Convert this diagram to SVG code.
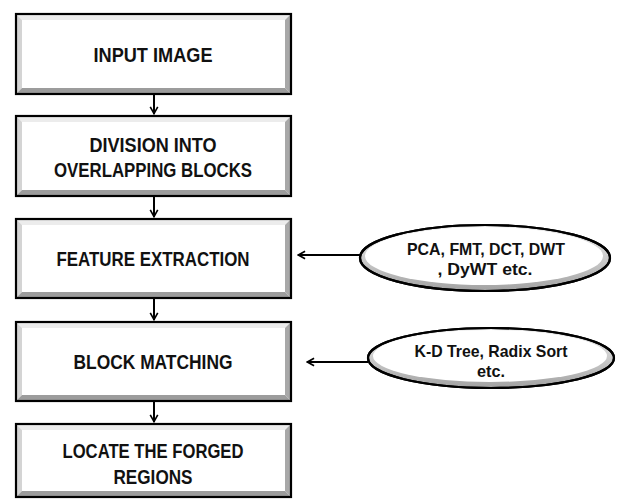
<svg xmlns="http://www.w3.org/2000/svg" width="617" height="500" viewBox="0 0 617 500">
  <defs>
    <marker id="chev" viewBox="0 0 12 12" refX="10.5" refY="6" markerWidth="10" markerHeight="10" markerUnits="userSpaceOnUse" orient="auto">
      <path d="M2,1.5 L10,6 L2,10.5" fill="none" stroke="#000" stroke-width="2"/>
    </marker>
    <linearGradient id="rim" x1="0" y1="0" x2="0" y2="1">
      <stop offset="0" stop-color="#ececec"/>
      <stop offset="0.55" stop-color="#c8c8c8"/>
      <stop offset="1" stop-color="#a2a2a2"/>
    </linearGradient>
  </defs>
  <style>
    .face { fill: #fff; }
    .bt { fill: #ececec; }
    .bl { fill: #d4d4d4; }
    .br { fill: #a8a8a8; }
    .bb { fill: #9c9c9c; }
    .frame { fill: none; stroke: #000; stroke-width: 2.2; }
    .lbl { font-family: "Liberation Sans", Arial, sans-serif; font-weight: bold; font-size: 19.5px; fill: #111; text-anchor: middle; }
    .elbl { font-family: "Liberation Sans", Arial, sans-serif; font-weight: bold; font-size: 17px; fill: #111; text-anchor: middle; }
    .conn { stroke: #000; stroke-width: 2; fill: none; marker-end: url(#chev); }
    .eouter { fill: url(#rim); stroke: #000; stroke-width: 2.2; }
    .einner { fill: #fff; }
  </style>

  <!-- bevelled process boxes: x 16..291, inset 6 -->
  <g id="input-image">
    <rect x="16" y="14" width="275" height="80" class="face"/>
    <polygon points="16,14 291,14 285,20 22,20" class="bt"/>
    <polygon points="16,14 22,20 22,88 16,94" class="bl"/>
    <polygon points="291,14 291,94 285,88 285,20" class="br"/>
    <polygon points="16,94 22,88 285,88 291,94" class="bb"/>
    <rect x="16" y="14" width="275" height="80" class="frame"/>
    <text x="153" y="62" class="lbl" textLength="119" lengthAdjust="spacingAndGlyphs">INPUT IMAGE</text>
  </g>

  <g id="division">
    <rect x="16" y="116" width="275" height="80" class="face"/>
    <polygon points="16,116 291,116 285,122 22,122" class="bt"/>
    <polygon points="16,116 22,122 22,190 16,196" class="bl"/>
    <polygon points="291,116 291,196 285,190 285,122" class="br"/>
    <polygon points="16,196 22,190 285,190 291,196" class="bb"/>
    <rect x="16" y="116" width="275" height="80" class="frame"/>
    <text x="153" y="152" class="lbl" textLength="127" lengthAdjust="spacingAndGlyphs">DIVISION INTO</text>
    <text x="153" y="177" class="lbl" textLength="198" lengthAdjust="spacingAndGlyphs">OVERLAPPING BLOCKS</text>
  </g>

  <g id="feature-extraction">
    <rect x="16" y="219" width="275" height="79" class="face"/>
    <polygon points="16,219 291,219 285,225 22,225" class="bt"/>
    <polygon points="16,219 22,225 22,292 16,298" class="bl"/>
    <polygon points="291,219 291,298 285,292 285,225" class="br"/>
    <polygon points="16,298 22,292 285,292 291,298" class="bb"/>
    <rect x="16" y="219" width="275" height="79" class="frame"/>
    <text x="153" y="266" class="lbl" textLength="193" lengthAdjust="spacingAndGlyphs">FEATURE EXTRACTION</text>
  </g>

  <g id="block-matching">
    <rect x="16" y="322" width="275" height="79" class="face"/>
    <polygon points="16,322 291,322 285,328 22,328" class="bt"/>
    <polygon points="16,322 22,328 22,395 16,401" class="bl"/>
    <polygon points="291,322 291,401 285,395 285,328" class="br"/>
    <polygon points="16,401 22,395 285,395 291,401" class="bb"/>
    <rect x="16" y="322" width="275" height="79" class="frame"/>
    <text x="153" y="369" class="lbl" textLength="159" lengthAdjust="spacingAndGlyphs">BLOCK MATCHING</text>
  </g>

  <g id="locate-regions">
    <rect x="16" y="424" width="275" height="73" class="face"/>
    <polygon points="16,424 291,424 285,430 22,430" class="bt"/>
    <polygon points="16,424 22,430 22,491 16,497" class="bl"/>
    <polygon points="291,424 291,497 285,491 285,430" class="br"/>
    <polygon points="16,497 22,491 285,491 291,497" class="bb"/>
    <rect x="16" y="424" width="275" height="73" class="frame"/>
    <text x="153" y="458" class="lbl" textLength="181" lengthAdjust="spacingAndGlyphs">LOCATE THE FORGED</text>
    <text x="153" y="484" class="lbl" textLength="79" lengthAdjust="spacingAndGlyphs">REGIONS</text>
  </g>

  <!-- technique ellipses -->
  <g id="features-methods">
    <ellipse cx="485" cy="258" rx="125" ry="33" class="eouter"/>
    <ellipse cx="484" cy="256" rx="119" ry="29" class="einner"/>
    <ellipse cx="485" cy="258" rx="125" ry="33" fill="none" stroke="#000" stroke-width="2.2"/>
    <text x="486" y="255" class="elbl" textLength="158" lengthAdjust="spacingAndGlyphs">PCA, FMT, DCT, DWT</text>
    <text x="485" y="275" class="elbl" textLength="95" lengthAdjust="spacingAndGlyphs">, DyWT etc.</text>
  </g>

  <g id="matching-methods">
    <ellipse cx="491" cy="358" rx="123" ry="30" class="eouter"/>
    <ellipse cx="490" cy="356" rx="117" ry="26" class="einner"/>
    <ellipse cx="491" cy="358" rx="123" ry="30" fill="none" stroke="#000" stroke-width="2.2"/>
    <text x="491" y="357" class="elbl" textLength="153" lengthAdjust="spacingAndGlyphs">K-D Tree, Radix Sort</text>
    <text x="491" y="377" class="elbl" textLength="28" lengthAdjust="spacingAndGlyphs">etc.</text>
  </g>

  <!-- connectors -->
  <g id="connectors">
    <line x1="154" y1="95" x2="154" y2="114" class="conn"/>
    <line x1="154" y1="197" x2="154" y2="217" class="conn"/>
    <line x1="154" y1="299" x2="154" y2="320" class="conn"/>
    <line x1="154" y1="402" x2="154" y2="422" class="conn"/>
    <line x1="360" y1="255" x2="298" y2="255" class="conn"/>
    <line x1="368" y1="362" x2="307" y2="362" class="conn"/>
  </g>
</svg>
